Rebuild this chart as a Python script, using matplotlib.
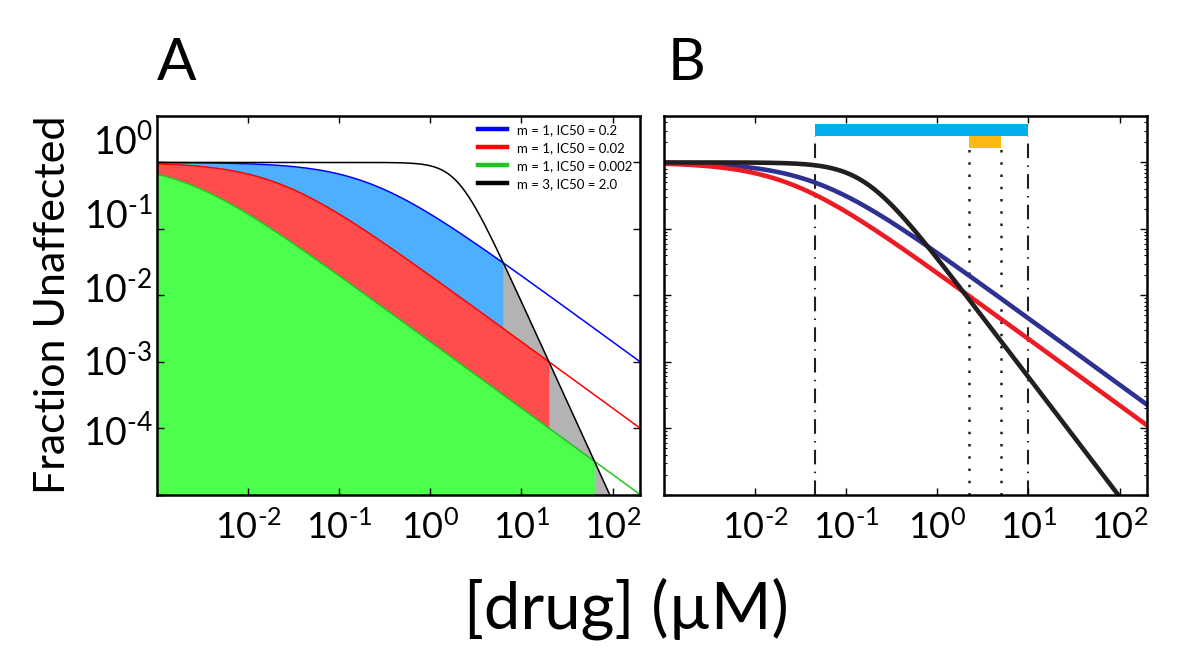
import numpy as np
import matplotlib
matplotlib.use("Agg")
import matplotlib.pyplot as plt
import matplotlib.transforms as mtransforms

plt.rcParams['font.family'] = ['Lato', 'DejaVu Sans']
plt.rcParams['mathtext.fontset'] = 'custom'
plt.rcParams['mathtext.rm'] = 'Lato'
plt.rcParams['mathtext.it'] = 'Lato:italic'
plt.rcParams['mathtext.default'] = 'regular'

# panel A: hill curves (slope m, IC50 in uM)
hill_a = [1, 1, 1, 3]
ic50_a = [0.2, 0.02, 0.002, 2.0]
legend_a = ['m = 1, IC50 = 0.2', 'm = 1, IC50 = 0.02',
            'm = 1, IC50 = 0.002', 'm = 3, IC50 = 2.0']
line_col_a = ['#0000ff', '#ff0000', '#22c422', '#000000']
fill_col_a = ['#4dafff', '#ff4d4d', '#4dff4d', '#b3b3b3']

# panel B
hill_b = [1, 1, 1.8]
ic50_b = [0.045, 0.022, 0.16]
col_b = ['#2e3192', '#ed1c24', '#231f20']
wide_win = [0.045, 10.0]
narrow_win = [2.2, 5.0]

xticks = [1e-2, 1e-1, 1e0, 1e1, 1e2]
xtick_labels = [r'$10^{\text{-}2}$', r'$10^{\text{-}1}$', r'$10^{0}$',
                r'$10^{1}$', r'$10^{2}$']
yticks = [1e-5, 1e-4, 1e-3, 1e-2, 1e-1, 1e0]
ytick_labels = ['', r'$10^{\text{-}4}$', r'$10^{\text{-}3}$',
                r'$10^{\text{-}2}$', r'$10^{\text{-}1}$', r'$10^{0}$']


def hill(c, m, ic50):
    return 1.0 / (1.0 + (c / ic50) ** m)


xmin, xmax = 1e-3, 200
ymin, ymax = 1e-5, 5
conc = np.logspace(np.log10(xmin), np.log10(xmax), 4000)

fig = plt.figure(figsize=(12, 6.57), dpi=100)
W, H = 1200, 657
axA = fig.add_axes([157 / W, 1 - 494.5 / H, 483 / W, 378.5 / H])
axB = fig.add_axes([664 / W, 1 - 494.5 / H, 483 / W, 378.5 / H])

# ---- panel A ----
blue, red, green, black = [hill(conc, m, c) for m, c in zip(hill_a, ic50_a)]
floor = 1e-7
axA.fill_between(conc, floor, black, where=black <= blue,
                 color=fill_col_a[3], lw=0)
axA.fill_between(conc, floor, green, where=green <= black,
                 color=fill_col_a[2], lw=0)
axA.fill_between(conc, green, red, where=red <= black,
                 color=fill_col_a[1], lw=0)
axA.fill_between(conc, red, blue, where=blue <= black,
                 color=fill_col_a[0], lw=0)
for y, col, lab in zip([blue, red, green, black], line_col_a, legend_a):
    axA.plot(conc, y, color=col, lw=1.1, label=lab)

leg = axA.legend(loc='upper right', frameon=False, fontsize=9.5,
                 handlelength=2.2, handletextpad=0.7, labelspacing=0.45,
                 borderaxespad=0.3, borderpad=0.3)
for h in leg.get_lines():
    h.set_linewidth(3.2)

# ---- panel B ----
axB.fill_between(wide_win, 2.46, 3.82, color='#00aeef', lw=0, zorder=1)
axB.fill_between(narrow_win, 1.64, 2.46, color='#fdb913', lw=0, zorder=1)
axB.vlines(wide_win, ymin, 2.46, colors='#231f20', lw=1.5,
           linestyles=[(0, (7, 3.5, 0.7, 3.5))], zorder=1.5)
axB.vlines(narrow_win, ymin, 1.64, colors='#231f20', lw=1.8,
           linestyles=[(0, (1, 3.9))], zorder=1.5)
for m, c, col in zip(hill_b, ic50_b, col_b):
    axB.plot(conc, hill(conc, m, c), color=col, lw=3.3, zorder=2)

# ---- axes styling ----
for ax in (axA, axB):
    ax.set_xscale('log')
    ax.set_yscale('log')
    ax.set_xlim(xmin, xmax)
    ax.set_ylim(ymin, ymax)
    ax.set_xticks(xticks)
    ax.set_xticklabels(xtick_labels)
    ax.set_yticks(yticks)
    ax.tick_params(which='both', direction='in', top=True, right=True)
    ax.tick_params(which='major', length=5, width=1.0)
    ax.tick_params(which='minor', length=2.5, width=0.8)
    ax.tick_params(axis='x', which='major', labelsize=26, pad=11)
    for sp in ax.spines.values():
        sp.set_linewidth(1.8)

axA.set_yticklabels(ytick_labels)
axA.tick_params(axis='y', which='major', labelsize=27, pad=3)
axB.set_yticklabels([])

# labels in the original sit a bit above their ticks
ylab_shift_px = [0, -2, 1.5, 8, 15.5, 24]
for lab, dy in zip(axA.get_yticklabels(), ylab_shift_px):
    lab.set_transform(lab.get_transform() +
                      mtransforms.ScaledTranslation(0, dy / 100, fig.dpi_scale_trans))

fig.text(53 / W, 1 - 305 / H, 'Fraction Unaffected', rotation=90,
         ha='center', va='center', fontsize=31)
fig.text(626 / W, 1 - 629 / H, '[drug] (\u00b5M)', ha='center',
         va='baseline', fontsize=47)
fig.text(157 / W, 1 - 80 / H, 'A', ha='left', va='baseline', fontsize=42)
fig.text(668 / W, 1 - 80 / H, 'B', ha='left', va='baseline', fontsize=42)

fig.savefig('out.png', dpi=100)
